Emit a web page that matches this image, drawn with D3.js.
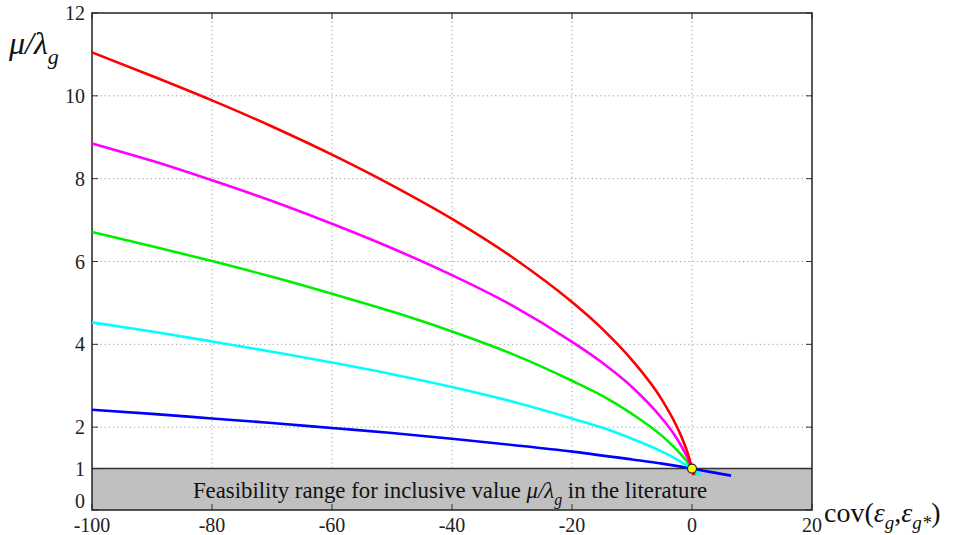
<!DOCTYPE html>
<html><head><meta charset="utf-8">
<script src="https://cdn.jsdelivr.net/npm/d3@7"></script>
<style>body{margin:0;background:#fff}</style>
</head><body>
<svg id="c" width="954" height="535"></svg>
<script>
// data
const redX = [-100,-90,-80,-70,-60,-50,-40,-30,-20,-15,-10,-5,-3,-2,-1,-0.5,0,0.25];
const redY = [11.05,10.48,9.89,9.26,8.58,7.84,7.03,6.11,5.02,4.38,3.62,2.66,2.15,1.85,1.49,1.27,1.0,0.84];
const magX = [-100,-90,-80,-70,-60,-50,-40,-30,-20,-15,-10,-5,-3,-2,-1,-0.5,0,0.3];
const magY = [8.85,8.43,7.96,7.46,6.91,6.32,5.67,4.94,4.06,3.56,2.97,2.21,1.83,1.60,1.33,1.18,1.0,0.85];
const grnX = [-100,-90,-80,-70,-60,-50,-40,-30,-20,-15,-10,-5,-3,-2,-1,-0.5,0,0.6];
const grnY = [6.71,6.37,6.01,5.63,5.22,4.79,4.31,3.77,3.12,2.76,2.32,1.79,1.52,1.37,1.20,1.10,1.0,0.85];
const cyaX = [-100,-90,-80,-70,-60,-50,-40,-30,-20,-15,-10,-5,-3,-1,0,1.4];
const cyaY = [4.53,4.31,4.07,3.82,3.56,3.28,2.97,2.62,2.21,1.99,1.72,1.41,1.26,1.09,1.0,0.84];
const bluX = [-100,-90,-80,-70,-60,-50,-40,-30,-20,-10,-5,0,3,6.5];
const bluY = [2.42,2.32,2.21,2.10,1.98,1.86,1.72,1.57,1.41,1.22,1.12,1.0,0.92,0.83];
const xTicks = [-100,-80,-60,-40,-20,0,20];
const yTicks = [0,1,2,4,6,8,10,12];
const yGrid = [2,4,6,8,10];
const bandLabel = "Feasibility range for inclusive value ";

const series = [
  {x: bluX, y: bluY, color: "#0000ff"},
  {x: cyaX, y: cyaY, color: "#00ffff"},
  {x: grnX, y: grnY, color: "#00ee00"},
  {x: magX, y: magY, color: "#ff00ff"},
  {x: redX, y: redY, color: "#ff0000"}
];

const svg = d3.select("#c");
const L = 92, R = 812, T = 13, B = 510;
const x = d3.scaleLinear().domain([-100, 20]).range([L, R]);
const y = d3.scaleLinear().domain([0, 12]).range([B, T]);
const serif = "'Liberation Serif','DejaVu Serif',serif";

// band
svg.append("rect").attr("x", x(-100)).attr("y", y(1)).attr("width", x(20) - x(-100))
  .attr("height", y(0) - y(1)).attr("fill", "#c0c0c0");
svg.append("line").attr("x1", x(-100)).attr("x2", x(20)).attr("y1", y(1)).attr("y2", y(1))
  .attr("stroke", "#333").attr("stroke-width", 1.5);

// grid
const g = svg.append("g").attr("stroke", "#999").attr("stroke-width", 1).attr("stroke-dasharray", "1.2,3");
xTicks.slice(1, -1).forEach(v => g.append("line").attr("x1", x(v)).attr("x2", x(v)).attr("y1", y(12)).attr("y2", y(1)));
yGrid.forEach(v => g.append("line").attr("x1", x(-100)).attr("x2", x(20)).attr("y1", y(v)).attr("y2", y(v)));

// ticks (inward)
const tk = svg.append("g").attr("stroke", "#333").attr("stroke-width", 1);
xTicks.forEach(v => {
  tk.append("line").attr("x1", x(v)).attr("x2", x(v)).attr("y1", B).attr("y2", B - 6);
  tk.append("line").attr("x1", x(v)).attr("x2", x(v)).attr("y1", T).attr("y2", T + 6);
});
yTicks.forEach(v => {
  tk.append("line").attr("x1", L).attr("x2", L + 6).attr("y1", y(v)).attr("y2", y(v));
  tk.append("line").attr("x1", R).attr("x2", R - 6).attr("y1", y(v)).attr("y2", y(v));
});

// box
svg.append("rect").attr("x", L).attr("y", T).attr("width", R - L).attr("height", B - T)
  .attr("fill", "none").attr("stroke", "#222").attr("stroke-width", 1.5);

// band text
const bt = svg.append("text").attr("x", 450).attr("y", 498).attr("text-anchor", "middle")
  .attr("font-family", serif).attr("font-size", 22.8).attr("fill", "#111");
bt.append("tspan").text(bandLabel);
bt.append("tspan").attr("font-style", "italic").text("μ/λ");
bt.append("tspan").attr("font-style", "italic").attr("font-size", 16).attr("dy", 7).text("g");
bt.append("tspan").attr("dy", -7).text(" in the literature");

// curves
const line = d3.line().x(d => x(d[0])).y(d => y(d[1])).curve(d3.curveMonotoneX);
series.forEach(s => {
  svg.append("path").datum(s.x.map((v, i) => [v, s.y[i]])).attr("d", line)
    .attr("fill", "none").attr("stroke", s.color).attr("stroke-width", 2.6);
});
svg.append("circle").attr("cx", x(0)).attr("cy", y(1)).attr("r", 4.5)
  .attr("fill", "#ffff00").attr("stroke", "#222").attr("stroke-width", 1.2);

// tick labels
xTicks.forEach(v => svg.append("text").attr("x", x(v)).attr("y", B + 22).attr("text-anchor", "middle")
  .attr("font-family", serif).attr("font-size", 20).attr("fill", "#222").text(v));
yTicks.forEach(v => svg.append("text").attr("x", L - 7).attr("y", y(v) + (v === 0 ? -2 : 7)).attr("text-anchor", "end")
  .attr("font-family", serif).attr("font-size", 20).attr("fill", "#222").text(v));

// axis labels
const yl = svg.append("text").attr("x", 9).attr("y", 54).attr("font-family", serif)
  .attr("font-size", 32).attr("font-style", "italic").attr("fill", "#111");
yl.append("tspan").text("μ/λ");
yl.append("tspan").attr("font-size", 22).attr("dy", 10).text("g");

const xl = svg.append("text").attr("x", 824).attr("y", 522).attr("font-family", serif)
  .attr("font-size", 28).attr("fill", "#111");
xl.append("tspan").text("cov(");
xl.append("tspan").attr("font-style", "italic").text("ε");
xl.append("tspan").attr("font-style", "italic").attr("font-size", 19).attr("dy", 7).text("g");
xl.append("tspan").attr("dy", -7).text(",");
xl.append("tspan").attr("font-style", "italic").text("ε");
xl.append("tspan").attr("font-style", "italic").attr("font-size", 19).attr("dy", 7).text("g*");
xl.append("tspan").attr("dy", -7).text(")");
</script>
</body></html>
